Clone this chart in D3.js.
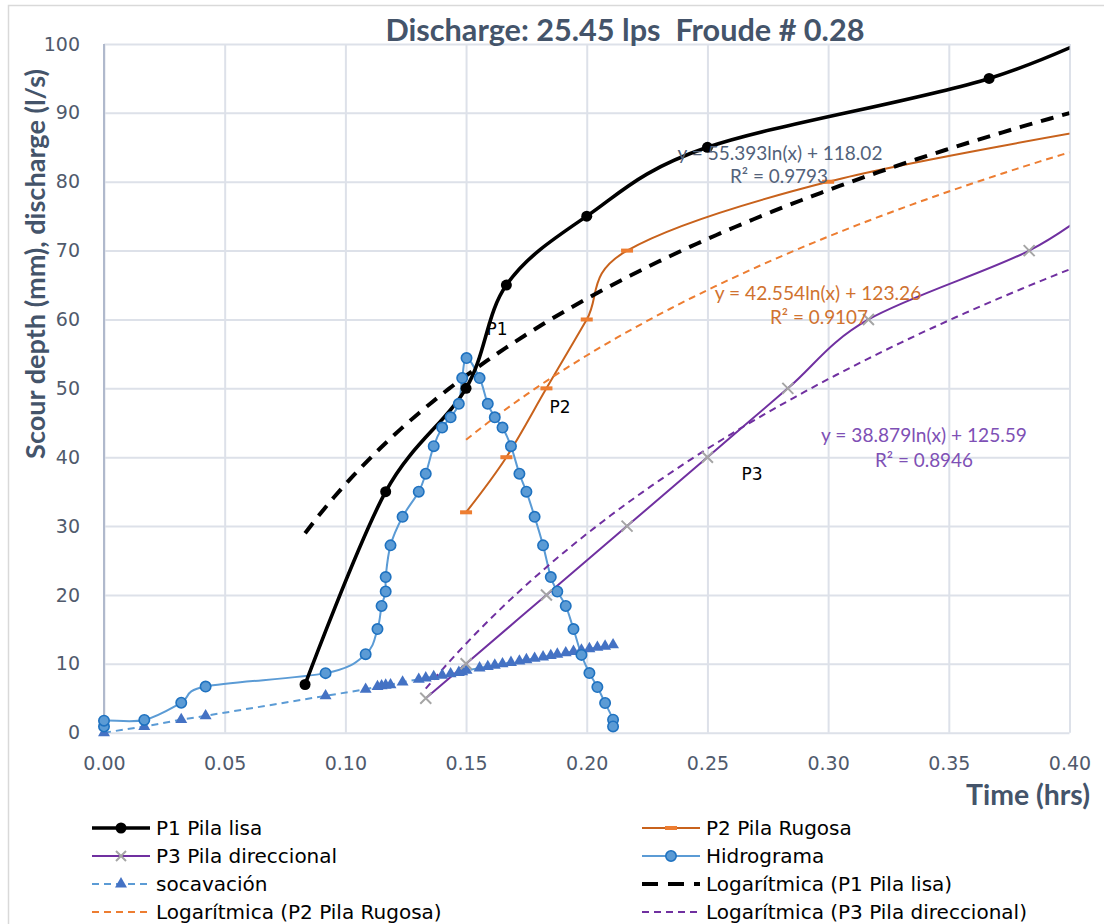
<!DOCTYPE html>
<html>
<head>
<meta charset="utf-8">
<script src="https://cdn.jsdelivr.net/npm/d3@7"></script>
<style>
  html, body { margin: 0; padding: 0; background: #ffffff; }
  svg { display: block; }
  text { white-space: pre; }
</style>
</head>
<body>
<svg id="chart" width="1104" height="924"></svg>
<script>
// ---------------- DATA ----------------
const xTicks = [0, 0.05, 0.10, 0.15, 0.20, 0.25, 0.30, 0.35, 0.40];
const yTicks = [0, 10, 20, 30, 40, 50, 60, 70, 80, 90, 100];

const p1X = [0.0833, 0.1167, 0.15, 0.1667, 0.20, 0.25, 0.3667, 0.4333];
const p1Y = [7, 35, 50, 65, 75, 85, 95, 105];

const p2X = [0.15, 0.1667, 0.1833, 0.20, 0.2167, 0.30, 0.4167];
const p2Y = [32, 40, 50, 60, 70, 80, 88];

const p3X = [0.1333, 0.15, 0.1833, 0.2167, 0.25, 0.2833, 0.3167, 0.3833, 0.4167];
const p3Y = [5, 10, 20, 30, 40, 50, 60, 70, 78];

const hydX = [0, 0, 0.0167, 0.032, 0.0421, 0.0918, 0.1084, 0.1133, 0.115, 0.1167, 0.1167,
  0.1187, 0.1237, 0.1304, 0.1333, 0.1366, 0.1401, 0.1436, 0.1470, 0.1484, 0.1502,
  0.1556, 0.1590, 0.1619, 0.1651, 0.1686, 0.1721, 0.1750, 0.1784, 0.1819, 0.1851,
  0.1878, 0.1913, 0.1945, 0.1978, 0.2011, 0.2044, 0.2076, 0.2109, 0.2109];
const hydY = [0.9, 1.75, 1.85, 4.35, 6.7, 8.65, 11.4, 15.05, 18.4, 20.5, 22.6,
  27.2, 31.35, 35.0, 37.6, 41.6, 44.3, 45.8, 47.75, 51.5, 54.4,
  51.5, 47.75, 45.8, 44.3, 41.6, 37.6, 35.0, 31.35, 27.2, 22.6,
  20.5, 18.4, 15.05, 11.3, 8.66, 6.63, 4.31, 1.89, 0.91];

const socX = [0, 0.0167, 0.032, 0.0421, 0.0918, 0.1084, 0.1133, 0.115, 0.1167, 0.1187,
  0.1237, 0.1304, 0.1333, 0.1366, 0.1401, 0.1436, 0.1470, 0.1484, 0.1502,
  0.1556, 0.1590, 0.1619, 0.1651, 0.1686, 0.1721, 0.1750, 0.1784, 0.1819, 0.1851,
  0.1878, 0.1913, 0.1945, 0.1978, 0.2011, 0.2044, 0.2076, 0.2109];
const socY = [0, 0.9, 1.9, 2.45, 5.35, 6.3, 6.7, 6.8, 6.9, 6.95,
  7.35, 7.75, 7.95, 8.15, 8.35, 8.55, 8.75, 8.85, 9.05,
  9.4, 9.6, 9.8, 10.0, 10.2, 10.4, 10.6, 10.8, 11.0, 11.2,
  11.4, 11.6, 11.8, 12.0, 12.2, 12.4, 12.55, 12.75];

const trendNames = ["P1", "P2", "P3"];
const trendA = [38.879, 42.554, 55.393];
const trendB = [125.59, 123.26, 118.02];
const trendStart = [0.0833, 0.15, 0.1333];

const trendLabels = [
  ["y = 55.393ln(x) + 118.02", "R² = 0.9793"],
  ["y = 42.554ln(x) + 123.26", "R² = 0.9107"],
  ["y = 38.879ln(x) + 125.59", "R² = 0.8946"]
];
const pointLabels = ["P1", "P2", "P3"];
const legendLabels = ["P1 Pila lisa", "P2 Pila Rugosa", "P3 Pila direccional", "Hidrograma",
  "socavación", "Logarítmica (P1 Pila lisa)", "Logarítmica (P2 Pila Rugosa)", "Logarítmica (P3 Pila direccional)"];
const titleText = "Discharge: 25.45 lps  Froude # 0.28";
const yTitle = "Scour depth (mm), discharge (l/s)";
const xTitle = "Time (hrs)";

// ---------------- STYLE ----------------
const C = {
  text: "#44546A", tick: "#505a6c", grid: "#dde1e9", axis: "#b0b9cc",
  p1: "#000000", p2line: "#C8621C", p2mark: "#ED7D31", p3: "#7030A0", p3mark: "#A5A5A5",
  hyd: "#5B9BD5", hydStroke: "#1F72C0", soc: "#4472C4", socLine: "#5B9BD5",
  t2: "#ED7D31", t3: "#7030A0", lab1: "#52627a", lab2: "#D0722F", lab3: "#7E50B5"
};
const FONT = "Lato, 'Open Sans', sans-serif";
const TEXTFONT = "'DejaVu Sans', 'Open Sans', sans-serif";

const svg = d3.select("#chart");
const L = 104, R = 1069.5, T = 44, B = 732.7;
const x = d3.scaleLinear().domain([0, 0.4]).range([L, R]);
const y = d3.scaleLinear().domain([0, 100]).range([B, T]);

// fit text to a measured width by adjusting the font size
function fit(sel, w) {
  const n = sel.node();
  const cur = n.getComputedTextLength();
  const fs = parseFloat(sel.attr("font-size"));
  if (cur > 0) sel.attr("font-size", (fs * w / cur).toFixed(2));
  return sel;
}

// chart border
svg.append("rect").attr("x", 8.5).attr("y", 5.5).attr("width", 1200).attr("height", 1000)
  .attr("fill", "none").attr("stroke", "#d9d9d9").attr("stroke-width", 1.5);

// gridlines
const gY = svg.append("g").attr("transform", `translate(${L},0)`)
  .call(d3.axisLeft(y).tickValues(yTicks).tickSize(-(R - L)).tickFormat(""));
gY.select(".domain").remove();
gY.selectAll("line").attr("stroke", C.grid).attr("stroke-width", 2);
const gX = svg.append("g").attr("transform", `translate(0,${B})`)
  .call(d3.axisBottom(x).tickValues(xTicks).tickSize(-(B - T)).tickFormat(""));
gX.select(".domain").remove();
gX.selectAll("line").attr("stroke", C.grid).attr("stroke-width", 2);
// y axis line
svg.append("line").attr("x1", L).attr("x2", L).attr("y1", T).attr("y2", B)
  .attr("stroke", C.axis).attr("stroke-width", 2);

// tick labels
const yl = svg.append("g").attr("transform", `translate(${L},0)`)
  .call(d3.axisLeft(y).tickValues(yTicks).tickSize(0).tickPadding(24).tickFormat(d3.format("d")));
yl.select(".domain").remove();
yl.selectAll("text").attr("font-family", TEXTFONT).attr("font-size", 19).attr("fill", C.tick);
const xl = svg.append("g").attr("transform", `translate(0,${B})`)
  .call(d3.axisBottom(x).tickValues(xTicks).tickSize(0).tickPadding(24).tickFormat(d3.format(".2f")));
xl.select(".domain").remove();
xl.selectAll("text").attr("font-family", TEXTFONT).attr("font-size", 19).attr("fill", C.tick);

// titles
fit(svg.append("text").attr("x", 625).attr("y", 41).attr("text-anchor", "middle")
  .attr("font-family", FONT).attr("font-weight", "bold").attr("font-size", 26)
  .attr("fill", C.text).text(titleText), 479);
fit(svg.append("text").attr("transform", "translate(45,264) rotate(-90)").attr("text-anchor", "middle")
  .attr("font-family", FONT).attr("font-weight", "bold").attr("font-size", 21)
  .attr("fill", C.text).text(yTitle), 390);
fit(svg.append("text").attr("x", 1090).attr("y", 805).attr("text-anchor", "end")
  .attr("font-family", FONT).attr("font-weight", "bold").attr("font-size", 22)
  .attr("fill", C.text).text(xTitle), 124);

// clip
svg.append("clipPath").attr("id", "plot").append("rect")
  .attr("x", L).attr("y", T - 2).attr("width", R - L).attr("height", B - T + 4);
const plot = svg.append("g").attr("clip-path", "url(#plot)");
const marks = svg.append("g");

const zip = (xs, ys) => xs.map((v, i) => [v, ys[i]]);
const smooth = d3.line().x(d => x(d[0])).y(d => y(d[1])).curve(d3.curveCardinal.tension(0));
const straight = d3.line().x(d => x(d[0])).y(d => y(d[1]));
const inRange = d => d[0] <= 0.4;

const p1 = zip(p1X, p1Y), p2 = zip(p2X, p2Y), p3 = zip(p3X, p3Y);
const hyd = zip(hydX, hydY), soc = zip(socX, socY);

// socavación
plot.append("path").attr("d", straight(soc)).attr("fill", "none").attr("stroke", C.socLine)
  .attr("stroke-width", 2).attr("stroke-dasharray", "7,5");
const tri = d3.symbol().type(d3.symbolTriangle).size(62);
marks.selectAll(".soc").data(soc.filter(inRange)).join("path")
  .attr("transform", d => `translate(${x(d[0])},${y(d[1])})`).attr("d", tri).attr("fill", C.soc);

// hidrograma
plot.append("path").attr("d", smooth(hyd)).attr("fill", "none").attr("stroke", C.hyd).attr("stroke-width", 2);
marks.selectAll(".hyd").data(hyd.filter(inRange)).join("circle")
  .attr("cx", d => x(d[0])).attr("cy", d => y(d[1])).attr("r", 5.2)
  .attr("fill", C.hyd).attr("stroke", C.hydStroke).attr("stroke-width", 1.6);

// P1
plot.append("path").attr("d", smooth(p1)).attr("fill", "none").attr("stroke", C.p1).attr("stroke-width", 3.6);
marks.selectAll(".p1").data(p1.filter(inRange)).join("circle")
  .attr("cx", d => x(d[0])).attr("cy", d => y(d[1])).attr("r", 5.5).attr("fill", C.p1);

// P2
plot.append("path").attr("d", smooth(p2)).attr("fill", "none").attr("stroke", C.p2line).attr("stroke-width", 2);
marks.selectAll(".p2").data(p2.filter(inRange)).join("rect")
  .attr("x", d => x(d[0]) - 6).attr("y", d => y(d[1]) - 2).attr("width", 12).attr("height", 4)
  .attr("fill", C.p2mark);

// P3
plot.append("path").attr("d", smooth(p3)).attr("fill", "none").attr("stroke", C.p3).attr("stroke-width", 2);
const xs = 5.5;
marks.selectAll(".p3").data(p3.filter(inRange)).join("path")
  .attr("d", d => { const cx = x(d[0]), cy = y(d[1]);
    return `M${cx - xs},${cy - xs}L${cx + xs},${cy + xs}M${cx - xs},${cy + xs}L${cx + xs},${cy - xs}`; })
  .attr("stroke", C.p3mark).attr("stroke-width", 2);

// trendlines
const trendStyle = [
  { c: C.p1, w: 4, dash: "13,9" },
  { c: C.t2, w: 2, dash: "7,5" },
  { c: C.t3, w: 2, dash: "7,5" }
];
trendA.forEach((a, i) => {
  const x0 = trendStart[i];
  const pts = d3.range(0, 81).map(k => {
    const xv = x0 + (0.4 - x0) * k / 80;
    return [xv, a * Math.log(xv) + trendB[i]];
  });
  plot.append("path").attr("d", straight(pts)).attr("fill", "none")
    .attr("stroke", trendStyle[i].c).attr("stroke-width", trendStyle[i].w)
    .attr("stroke-dasharray", trendStyle[i].dash);
});

// trendline labels
const labPos = [[780, 160, 779, 183, 205, 98], [818, 300, 819, 324, 207, 98], [924, 442, 924, 467, 206, 98]];
const labCol = [C.lab1, C.lab2, C.lab3];
trendLabels.forEach((t, i) => {
  const p = labPos[i];
  fit(svg.append("text").attr("x", p[0]).attr("y", p[1]).attr("text-anchor", "middle")
    .attr("font-family", FONT).attr("font-size", 18).attr("fill", labCol[i]).text(t[0]), p[4]);
  fit(svg.append("text").attr("x", p[2]).attr("y", p[3]).attr("text-anchor", "middle")
    .attr("font-family", FONT).attr("font-size", 18).attr("fill", labCol[i]).text(t[1]), p[5]);
});

// point labels
const plPos = [[497, 335], [560, 413], [752, 480]];
pointLabels.forEach((t, i) => {
  svg.append("text").attr("x", plPos[i][0]).attr("y", plPos[i][1]).attr("text-anchor", "middle")
    .attr("font-family", TEXTFONT).attr("font-size", 17).attr("fill", "#000").text(t);
});

// legend
const lg = svg.append("g");
const colX = [92, 642], rowY = [828, 856, 884, 912];
legendLabels.forEach((t, i) => {
  const cx = colX[i % 2], cy = rowY[Math.floor(i / 2)];
  const g = lg.append("g");
  const sx0 = cx, sx1 = cx + 58, mx = cx + 29;
  const ln = (col, w, dash) => g.append("line").attr("x1", sx0).attr("x2", sx1).attr("y1", cy).attr("y2", cy)
    .attr("stroke", col).attr("stroke-width", w).attr("stroke-dasharray", dash || null);
  if (i === 0) { ln(C.p1, 3.6); g.append("circle").attr("cx", mx).attr("cy", cy).attr("r", 5.5).attr("fill", C.p1); }
  if (i === 1) { ln(C.p2line, 2); g.append("rect").attr("x", mx - 6).attr("y", cy - 2).attr("width", 12).attr("height", 4).attr("fill", C.p2mark); }
  if (i === 2) { ln(C.p3, 2); g.append("path").attr("d", `M${mx - 5},${cy - 5}L${mx + 5},${cy + 5}M${mx - 5},${cy + 5}L${mx + 5},${cy - 5}`).attr("stroke", C.p3mark).attr("stroke-width", 2); }
  if (i === 3) { ln(C.hyd, 2); g.append("circle").attr("cx", mx).attr("cy", cy).attr("r", 5.2).attr("fill", C.hyd).attr("stroke", C.hydStroke).attr("stroke-width", 1.6); }
  if (i === 4) { ln(C.socLine, 2, "7,5"); g.append("path").attr("transform", `translate(${mx},${cy})`).attr("d", tri).attr("fill", C.soc); }
  if (i === 5) { ln(C.p1, 4, "16,10"); }
  if (i === 6) { ln(C.t2, 2, "7,5"); }
  if (i === 7) { ln(C.t3, 2, "7,5"); }
  g.append("text").attr("x", cx + 64).attr("y", cy + 7).attr("font-family", TEXTFONT).attr("font-size", 20)
    .attr("fill", "#000").text(t);
});
</script>
</body>
</html>
